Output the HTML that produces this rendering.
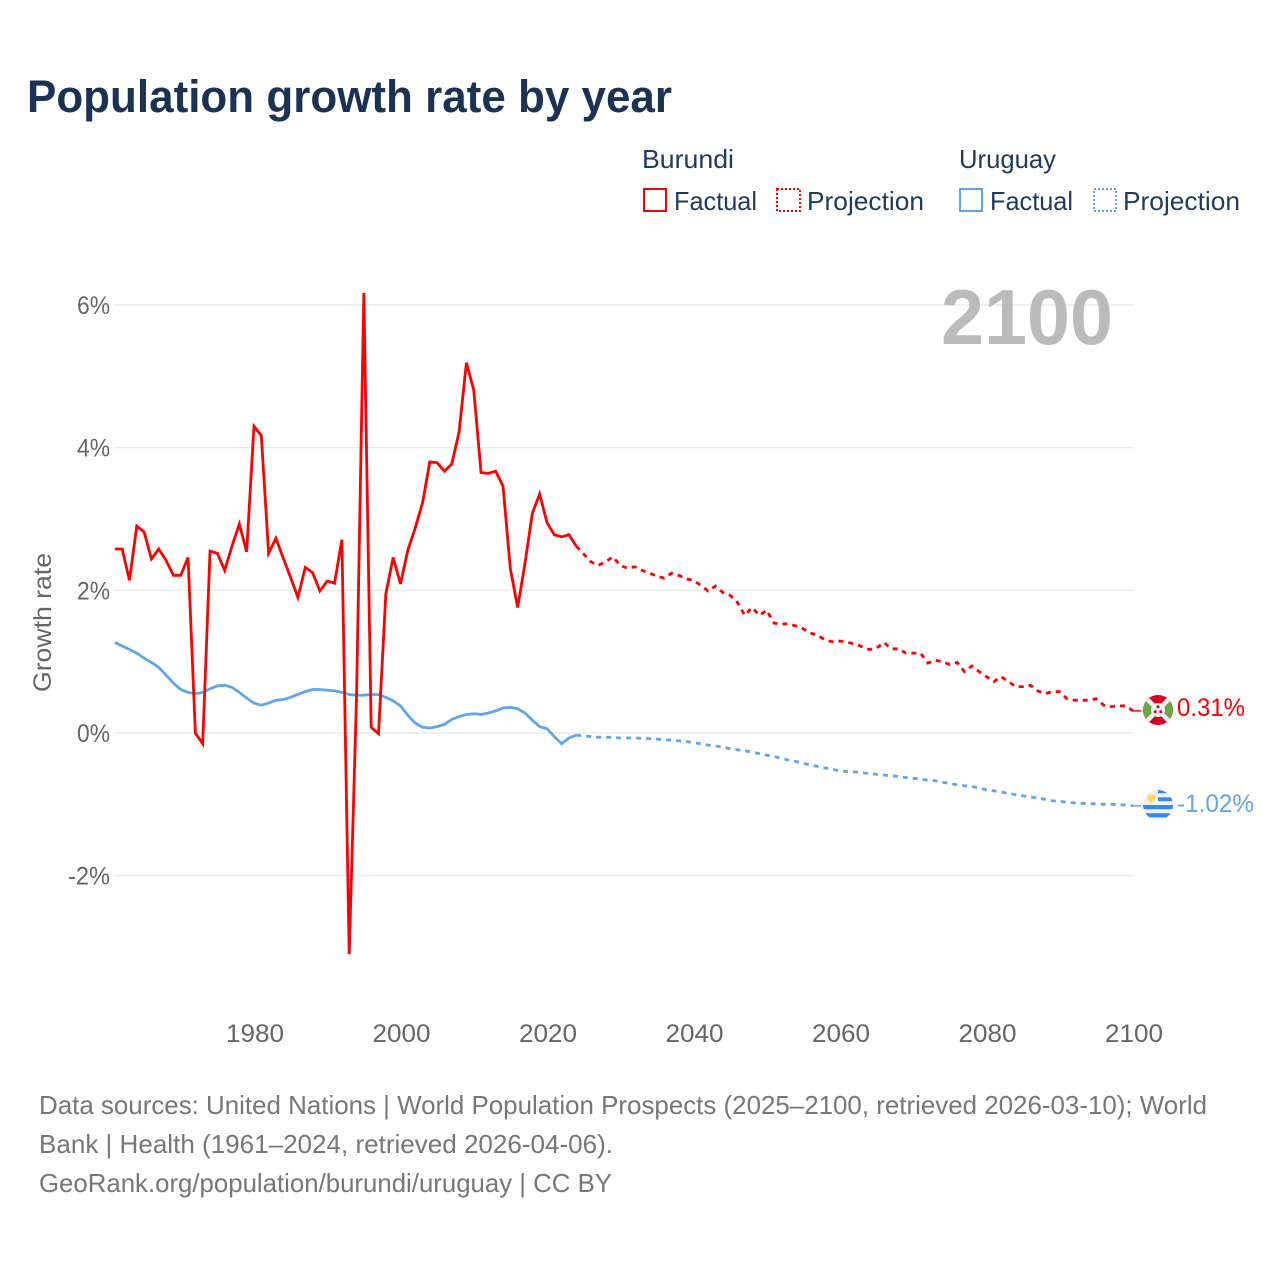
<!DOCTYPE html>
<html lang="en">
<head>
<meta charset="utf-8">
<title>Population growth rate by year</title>
<style>
html,body{margin:0;padding:0;background:#fff;}
svg{display:block;}
text{font-family:"Liberation Sans",sans-serif;}
</style>
</head>
<body>
<svg id="chart" xmlns="http://www.w3.org/2000/svg" width="1280" height="1280" viewBox="0 0 1280 1280">
  <rect width="1280" height="1280" fill="#ffffff"/>
  <text x="27" y="112" font-size="45" font-weight="700" fill="#1a3355" textLength="645" lengthAdjust="spacingAndGlyphs">Population growth rate by year</text>

  <g font-size="26" fill="#1f3a5c">
    <text x="642" y="168" textLength="92" lengthAdjust="spacingAndGlyphs">Burundi</text>
    <text x="959" y="168" textLength="97" lengthAdjust="spacingAndGlyphs">Uruguay</text>
    <rect x="644" y="189" width="22" height="22" fill="none" stroke="#ff0000" stroke-width="2"/>
    <text x="674" y="210" textLength="83" lengthAdjust="spacingAndGlyphs">Factual</text>
    <rect x="777" y="189" width="23" height="22" fill="none" stroke="#ff0000" stroke-width="2" stroke-dasharray="2 2"/>
    <text x="807" y="210" textLength="117" lengthAdjust="spacingAndGlyphs">Projection</text>
    <rect x="960" y="189" width="22" height="22" fill="none" stroke="#60a5ee" stroke-width="2"/>
    <text x="990" y="210" textLength="83" lengthAdjust="spacingAndGlyphs">Factual</text>
    <rect x="1094" y="189" width="22" height="22" fill="none" stroke="#60a5ee" stroke-width="2" stroke-dasharray="2 2"/>
    <text x="1123" y="210" textLength="117" lengthAdjust="spacingAndGlyphs">Projection</text>
  </g>

  <g id="grid"></g>
  <g id="yticks" font-size="25" fill="#666666" text-anchor="end"></g>
  <g id="xticks" font-size="25" fill="#666666" text-anchor="middle"></g>
  <text transform="translate(51,692) rotate(-90)" font-size="25" fill="#666666" textLength="139" lengthAdjust="spacingAndGlyphs">Growth rate</text>
  <text x="941" y="344" font-size="78" font-weight="700" fill="#bbbbbb" textLength="172" lengthAdjust="spacingAndGlyphs">2100</text>

  <g id="series"></g>

  <g>
    <clipPath id="clip-bi"><circle cx="1158" cy="710" r="15"/></clipPath>
    <g clip-path="url(#clip-bi)">
      <rect x="1143" y="695" width="30" height="30" fill="#d80027"/>
      <path d="M1143 695L1158 710L1143 725Z" fill="#6da544"/>
      <path d="M1173 695L1158 710L1173 725Z" fill="#6da544"/>
      <path d="M1143 695L1173 725M1173 695L1143 725" stroke="#f0f0f0" stroke-width="4.5"/>
      <circle cx="1158" cy="710" r="7" fill="#f0f0f0"/>
      <circle cx="1158" cy="706.8" r="1.5" fill="#d80027"/>
      <circle cx="1155.2" cy="711.8" r="1.5" fill="#d80027"/>
      <circle cx="1160.8" cy="711.8" r="1.5" fill="#d80027"/>
    </g>
  </g>
  <g>
    <clipPath id="clip-uy"><circle cx="1158" cy="805" r="15"/></clipPath>
    <g clip-path="url(#clip-uy)">
      <rect x="1143" y="790" width="30" height="30" fill="#f0f0f0"/>
      <rect x="1158" y="789.5" width="15" height="3.7" fill="#338af3"/>
      <rect x="1158" y="797.3" width="15" height="3.9" fill="#338af3"/>
      <rect x="1143" y="805" width="30" height="4.2" fill="#338af3"/>
      <rect x="1143" y="813.2" width="30" height="4.2" fill="#338af3"/>
      <circle cx="1151.3" cy="798.3" r="3.8" fill="#ffda44"/>
    </g>
  </g>
  <text id="label-bi" x="1177" y="716" font-size="25" fill="#ff0000" textLength="68" lengthAdjust="spacingAndGlyphs">0.31%</text>
  <text id="label-uy" x="1177" y="812" font-size="25" fill="#60a5ee" textLength="77" lengthAdjust="spacingAndGlyphs">-1.02%</text>

  <g font-size="26" fill="#777777">
    <text x="39" y="1114" textLength="1168" lengthAdjust="spacingAndGlyphs">Data sources: United Nations | World Population Prospects (2025–2100, retrieved 2026-03-10); World</text>
    <text x="39" y="1153" textLength="574" lengthAdjust="spacingAndGlyphs">Bank | Health (1961–2024, retrieved 2026-04-06).</text>
    <text x="39" y="1192" textLength="573" lengthAdjust="spacingAndGlyphs">GeoRank.org/population/burundi/uruguay | CC BY</text>
  </g>
</svg>
<script>
const yTickValues = [6, 4, 2, 0, -2];
const yTickLabels = ["6%", "4%", "2%", "0%", "-2%"];
const xTickValues = [1980, 2000, 2020, 2040, 2060, 2080, 2100];
const xTickLabels = ["1980", "2000", "2020", "2040", "2060", "2080", "2100"];

const factualYears = [1961,1962,1963,1964,1965,1966,1967,1968,1969,1970,1971,1972,1973,1974,1975,1976,1977,1978,1979,1980,1981,1982,1983,1984,1985,1986,1987,1988,1989,1990,1991,1992,1993,1994,1995,1996,1997,1998,1999,2000,2001,2002,2003,2004,2005,2006,2007,2008,2009,2010,2011,2012,2013,2014,2015,2016,2017,2018,2019,2020,2021,2022,2023,2024];
const projectionYears = [2024,2025,2026,2027,2028,2029,2030,2031,2032,2033,2034,2035,2036,2037,2038,2039,2040,2041,2042,2043,2044,2045,2046,2047,2048,2049,2050,2051,2052,2053,2054,2055,2056,2057,2058,2059,2060,2061,2062,2063,2064,2065,2066,2067,2068,2069,2070,2071,2072,2073,2074,2075,2076,2077,2078,2079,2080,2081,2082,2083,2084,2085,2086,2087,2088,2089,2090,2091,2092,2093,2094,2095,2096,2097,2098,2099,2100];

const burundiFactual = [2.58,2.58,2.14,2.90,2.82,2.44,2.58,2.42,2.21,2.21,2.46,0.00,-0.15,2.55,2.52,2.28,2.62,2.93,2.54,4.30,4.17,2.52,2.73,2.45,2.18,1.90,2.32,2.25,1.99,2.13,2.10,2.71,-3.10,0.50,6.17,0.08,-0.01,1.95,2.46,2.09,2.56,2.87,3.22,3.80,3.79,3.67,3.77,4.22,5.19,4.81,3.65,3.64,3.67,3.46,2.30,1.76,2.38,3.08,3.35,2.95,2.78,2.75,2.78,2.62];
const burundiProjection = [2.62,2.51,2.40,2.35,2.40,2.47,2.35,2.31,2.33,2.28,2.24,2.20,2.17,2.24,2.21,2.16,2.14,2.07,1.99,2.06,1.97,1.93,1.83,1.65,1.76,1.65,1.72,1.54,1.53,1.53,1.50,1.46,1.40,1.37,1.30,1.28,1.29,1.27,1.25,1.21,1.17,1.19,1.27,1.18,1.18,1.12,1.12,1.12,0.98,1.02,1.00,0.96,0.99,0.86,0.94,0.86,0.79,0.72,0.79,0.72,0.65,0.65,0.67,0.59,0.55,0.58,0.58,0.48,0.46,0.46,0.46,0.48,0.39,0.37,0.38,0.38,0.31];
const uruguayFactual = [1.27,1.22,1.17,1.12,1.05,0.99,0.92,0.81,0.70,0.61,0.57,0.55,0.57,0.62,0.66,0.67,0.64,0.57,0.49,0.42,0.39,0.42,0.46,0.47,0.50,0.54,0.58,0.61,0.61,0.60,0.59,0.57,0.54,0.53,0.53,0.54,0.54,0.50,0.45,0.38,0.25,0.14,0.08,0.07,0.09,0.12,0.19,0.23,0.26,0.27,0.26,0.28,0.31,0.35,0.36,0.34,0.28,0.18,0.09,0.06,-0.05,-0.15,-0.07,-0.03];
const uruguayProjection = [-0.03,-0.04,-0.05,-0.06,-0.06,-0.06,-0.07,-0.07,-0.07,-0.075,-0.08,-0.085,-0.095,-0.10,-0.11,-0.12,-0.135,-0.15,-0.17,-0.18,-0.20,-0.22,-0.235,-0.25,-0.265,-0.29,-0.31,-0.33,-0.355,-0.38,-0.40,-0.425,-0.45,-0.47,-0.49,-0.51,-0.53,-0.54,-0.545,-0.555,-0.57,-0.58,-0.59,-0.60,-0.61,-0.625,-0.635,-0.65,-0.66,-0.67,-0.69,-0.71,-0.725,-0.74,-0.75,-0.77,-0.795,-0.81,-0.83,-0.845,-0.865,-0.88,-0.90,-0.91,-0.93,-0.95,-0.96,-0.97,-0.98,-0.985,-0.99,-0.995,-1.00,-1.00,-1.005,-1.01,-1.02];

const SVGNS = "http://www.w3.org/2000/svg";
const xScale = function (year) { return 115.8 + (year - 1961) * 7.325; };
const xMark = function (year) { return xScale(year) - 1; };
const yScale = function (value) { return 733 - value * 71.33; };

function linePath(years, values) {
  return values.map(function (v, i) {
    return (i ? "L" : "M") + xMark(years[i]).toFixed(2) + " " + yScale(v).toFixed(2);
  }).join("");
}

const gridGroup = document.getElementById("grid");
const yTickGroup = document.getElementById("yticks");
const xTickGroup = document.getElementById("xticks");
const seriesGroup = document.getElementById("series");

yTickValues.forEach(function (v, i) {
  const g = document.createElementNS(SVGNS, "line");
  g.setAttribute("x1", 115);
  g.setAttribute("x2", 1133);
  g.setAttribute("y1", yScale(v));
  g.setAttribute("y2", yScale(v));
  g.setAttribute("stroke", "#ebebeb");
  g.setAttribute("stroke-width", 1.5);
  
  
  gridGroup.appendChild(g);
  const t = document.createElementNS(SVGNS, "text");
  t.setAttribute("x", 110);
  t.setAttribute("y", yScale(v) + 9);
  t.setAttribute("textLength", yTickLabels[i].length > 2 ? 42 : 33);
  t.setAttribute("lengthAdjust", "spacingAndGlyphs");
  t.textContent = yTickLabels[i];
  
  
  yTickGroup.appendChild(t);
});

xTickValues.forEach(function (year, i) {
  const t = document.createElementNS(SVGNS, "text");
  t.setAttribute("x", xScale(year));
  t.setAttribute("y", 1042);
  t.setAttribute("textLength", 58);
  t.setAttribute("lengthAdjust", "spacingAndGlyphs");
  t.textContent = xTickLabels[i];
  
  
  xTickGroup.appendChild(t);
});

function addLine(name, years, values, color, dash) {
  const p = document.createElementNS(SVGNS, "path");
  p.setAttribute("d", linePath(years, values));
  p.setAttribute("fill", "none");
  p.setAttribute("stroke", color);
  p.setAttribute("stroke-width", 2.8);
  if (dash) p.setAttribute("stroke-dasharray", dash);
  
  
  seriesGroup.appendChild(p);
}

function addConnector(name, years, values, color) {
  const lastYear = years[years.length - 1];
  const lastValue = values[values.length - 1];
  const c = document.createElementNS(SVGNS, "line");
  c.setAttribute("x1", xMark(lastYear));
  c.setAttribute("x2", xMark(lastYear) + 8);
  c.setAttribute("y1", yScale(lastValue));
  c.setAttribute("y2", yScale(lastValue));
  c.setAttribute("stroke", color);
  c.setAttribute("stroke-width", 1.5);
  
  
  seriesGroup.appendChild(c);
}

addLine("uruguay-factual-line", factualYears, uruguayFactual, "#60a5ee", null);
addLine("uruguay-projection-line", projectionYears, uruguayProjection, "#60a5ee", "5 5");
addConnector("uruguay-end-connector", projectionYears, uruguayProjection, "#60a5ee");
addLine("burundi-factual-line", factualYears, burundiFactual, "#ff0000", null);
addLine("burundi-projection-line", projectionYears, burundiProjection, "#ff0000", "5 5");
addConnector("burundi-end-connector", projectionYears, burundiProjection, "#ff0000");
</script>
</body>
</html>
